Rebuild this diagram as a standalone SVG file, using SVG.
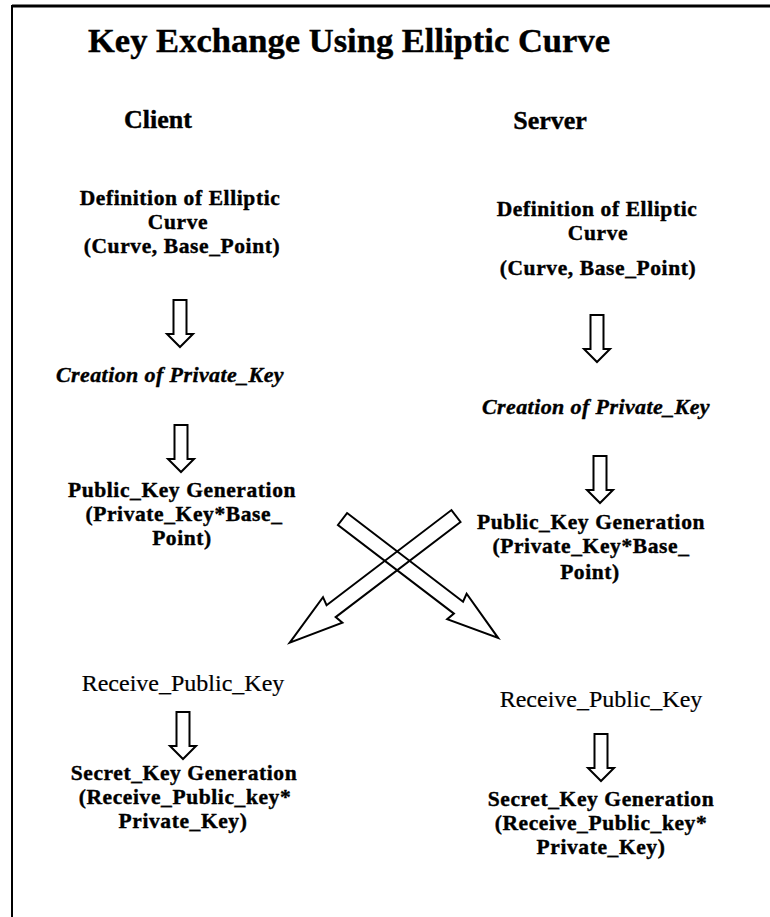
<svg xmlns="http://www.w3.org/2000/svg" width="770" height="917" viewBox="0 0 770 917">
  <style>
    text { font-family: "Liberation Serif", "DejaVu Serif", "Times New Roman", serif; fill: #000; }
    .title { font-weight: bold; font-size: 34px; stroke: #000; stroke-width: 0.4; }
    .head { font-weight: bold; font-size: 26px; text-anchor: middle; stroke: #000; stroke-width: 0.4; }
    .b { font-weight: bold; font-size: 21.5px; letter-spacing: 0.6px; text-anchor: middle; stroke: #000; stroke-width: 0.4; }
    .bi { font-weight: bold; font-style: italic; font-size: 22px; letter-spacing: 0.4px; text-anchor: middle; stroke: #000; stroke-width: 0.4; }
    .r { font-size: 24px; text-anchor: middle; stroke: #000; stroke-width: 0.2; }
    .arrow { fill: #fff; stroke: #000; stroke-width: 2; stroke-linejoin: miter; }
    .cross { fill: none; stroke: #000; stroke-width: 2; stroke-linejoin: miter; }
    .frame { stroke: #000; fill: none; }
  </style>
  <defs>
    <!-- hollow block arrow pointing down, origin at top centre of the shaft -->
    <path id="down" d="M-6.5,0 H6.5 V34 H13 L0,47 L-13,34 H-6.5 Z"/>
  </defs>

  <rect width="770" height="917" fill="#fff"/>

  <!-- page frame: top and left rules only -->
  <g id="frame">
    <line class="frame" x1="12" y1="6" x2="770" y2="6" stroke-width="3"/>
    <line class="frame" x1="12" y1="5" x2="12" y2="917" stroke-width="2"/>
  </g>

  <g id="title">
    <text class="title" x="88" y="52" textLength="522" lengthAdjust="spacingAndGlyphs">Key Exchange Using Elliptic Curve</text>
  </g>

  <g id="client-label"><text class="head" x="158" y="128">Client</text></g>
  <g id="server-label"><text class="head" x="550" y="129">Server</text></g>

  <!-- client column -->
  <g id="client-curve">
    <text class="b" x="180" y="205">Definition of Elliptic</text>
    <text class="b" x="178" y="229">Curve</text>
    <text class="b" x="182" y="253">(Curve, Base_Point)</text>
  </g>
  <g id="client-private">
    <text class="bi" x="170" y="382">Creation of Private_Key</text>
  </g>
  <g id="client-public">
    <text class="b" x="182" y="497">Public_Key Generation</text>
    <text class="b" x="184" y="521">(Private_Key*Base_</text>
    <text class="b" x="182" y="545">Point)</text>
  </g>
  <g id="client-receive">
    <text class="r" x="183" y="691">Receive_Public_Key</text>
  </g>
  <g id="client-secret">
    <text class="b" x="184" y="780">Secret_Key Generation</text>
    <text class="b" x="185" y="804">(Receive_Public_key*</text>
    <text class="b" x="183" y="828">Private_Key)</text>
  </g>

  <!-- server column -->
  <g id="server-curve">
    <text class="b" x="597" y="216">Definition of Elliptic</text>
    <text class="b" x="598" y="240">Curve</text>
    <text class="b" x="598" y="275">(Curve, Base_Point)</text>
  </g>
  <g id="server-private">
    <text class="bi" x="596" y="414">Creation of Private_Key</text>
  </g>
  <g id="server-public">
    <text class="b" x="591" y="529">Public_Key Generation</text>
    <text class="b" x="591" y="553">(Private_Key*Base_</text>
    <text class="b" x="590" y="579">Point)</text>
  </g>
  <g id="server-receive">
    <text class="r" x="601" y="707">Receive_Public_Key</text>
  </g>
  <g id="server-secret">
    <text class="b" x="601" y="806">Secret_Key Generation</text>
    <text class="b" x="601" y="830">(Receive_Public_key*</text>
    <text class="b" x="601" y="854">Private_Key)</text>
  </g>

  <!-- connectors -->
  <g id="connectors">
    <use href="#down" class="arrow" x="180" y="300"/>
    <use href="#down" class="arrow" x="181" y="425"/>
    <use href="#down" class="arrow" x="183" y="712"/>
    <use href="#down" class="arrow" x="597" y="315"/>
    <use href="#down" class="arrow" x="600" y="456"/>
    <use href="#down" class="arrow" x="601" y="734"/>
    <!-- client public key sent to server -->
    <polygon class="cross" transform="translate(342.5,519) rotate(37.4)"
             points="0,-7.5 146,-7.5 144,-16 196,0 144,16 146,7.5 0,7.5"/>
    <!-- server public key sent to client -->
    <polygon class="cross" transform="translate(456,516) rotate(142.7)"
             points="0,-7.5 157,-7.5 155,-16 209,0 155,16 157,7.5 0,7.5"/>
  </g>
</svg>
